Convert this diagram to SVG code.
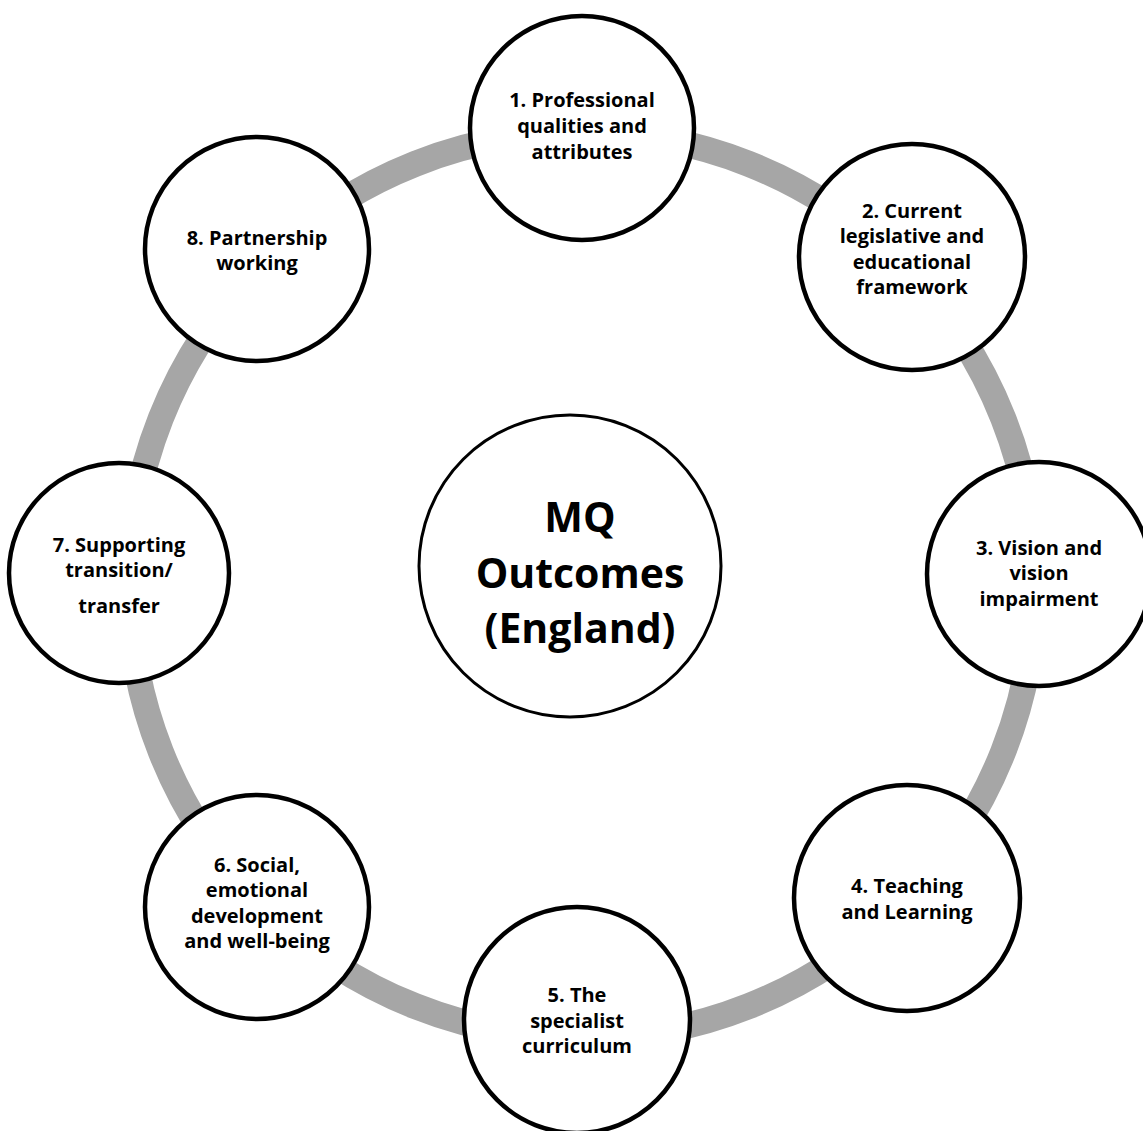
<svg xmlns="http://www.w3.org/2000/svg" width="1143" height="1131" viewBox="0 0 1143 1131">
<style>
.node{fill:#fff;stroke:#000;stroke-width:4.5}
.hub{fill:#fff;stroke:#000;stroke-width:3}
.t{font-family:"Open Sans","Liberation Sans",sans-serif;font-weight:700;font-size:20px;fill:#000;text-anchor:middle}
.h{font-family:"Open Sans","Liberation Sans",sans-serif;font-weight:700;font-size:41px;fill:#000;text-anchor:middle}
</style>
<rect width="1143" height="1131" fill="#fff"/>
<g id="connectors">
<circle cx="582" cy="585" r="453" fill="none" stroke="#a6a6a6" stroke-width="26"/>
</g>
<g id="hub">
<circle class="hub" cx="570" cy="566" r="151"/>
<text class="h" x="580" y="532">MQ</text>
<text class="h" x="580" y="588">Outcomes</text>
<text class="h" x="580" y="643">(England)</text>
</g>
<g id="node1">
<circle class="node" cx="582" cy="128" r="112"/>
<text class="t" x="582" y="107">1. Professional</text>
<text class="t" x="582" y="133">qualities and</text>
<text class="t" x="582" y="159">attributes</text>
</g>
<g id="node2">
<circle class="node" cx="912" cy="257" r="113"/>
<text class="t" x="912" y="218">2. Current</text>
<text class="t" x="912" y="243">legislative and</text>
<text class="t" x="912" y="269">educational</text>
<text class="t" x="912" y="294">framework</text>
</g>
<g id="node3">
<circle class="node" cx="1039" cy="574" r="112"/>
<text class="t" x="1039" y="555">3. Vision and</text>
<text class="t" x="1039" y="580">vision</text>
<text class="t" x="1039" y="606">impairment</text>
</g>
<g id="node4">
<circle class="node" cx="907" cy="898" r="113"/>
<text class="t" x="907" y="893">4. Teaching</text>
<text class="t" x="907" y="919">and Learning</text>
</g>
<g id="node5">
<circle class="node" cx="577" cy="1020" r="113"/>
<text class="t" x="577" y="1002">5. The</text>
<text class="t" x="577" y="1028">specialist</text>
<text class="t" x="577" y="1053">curriculum</text>
</g>
<g id="node6">
<circle class="node" cx="257" cy="907" r="112"/>
<text class="t" x="257" y="872">6. Social,</text>
<text class="t" x="257" y="897">emotional</text>
<text class="t" x="257" y="923">development</text>
<text class="t" x="257" y="948">and well-being</text>
</g>
<g id="node7">
<circle class="node" cx="119" cy="573" r="110"/>
<text class="t" x="119" y="552">7. Supporting</text>
<text class="t" x="119" y="577">transition/</text>
<text class="t" x="119" y="613">transfer</text>
</g>
<g id="node8">
<circle class="node" cx="257" cy="249" r="112"/>
<text class="t" x="257" y="245">8. Partnership</text>
<text class="t" x="257" y="270">working</text>
</g>
</svg>
